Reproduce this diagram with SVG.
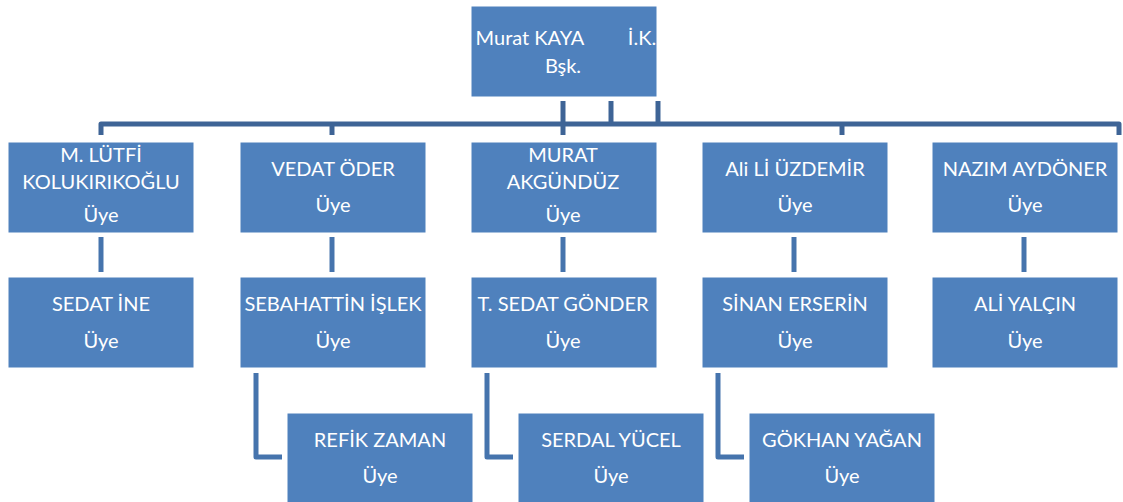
<svg xmlns="http://www.w3.org/2000/svg" width="1123" height="502" viewBox="0 0 1123 502">
<style>
.box{fill:#4f81bd;stroke:#ffffff;stroke-width:1}
.t{font-family:Lato,"Open Sans","Liberation Sans",sans-serif;font-size:20px;fill:#ffffff;text-anchor:middle}
.bus{fill:none;stroke:#3e6496;stroke-width:5;stroke-linejoin:round}
.con{fill:none;stroke:#4674ad;stroke-width:5;stroke-linejoin:round}
</style>
<rect width="1123" height="502" fill="#ffffff"/>
<g id="connectors">
<path class="bus" d="M101,135 V124 H1119 V135"/>
<path class="bus" d="M563,101 V135"/>
<path class="bus" d="M611,101 V124"/>
<path class="bus" d="M658,101 V124"/>
<path class="bus" d="M332,124 V135"/>
<path class="bus" d="M842,124 V135"/>
<path class="con" d="M101,237 V272"/>
<path class="con" d="M332,237 V272"/>
<path class="con" d="M563,237 V272"/>
<path class="con" d="M794,237 V272"/>
<path class="con" d="M1024,237 V272"/>
<path class="con" d="M256,373 V457 H282"/>
<path class="con" d="M487,373 V457 H513"/>
<path class="con" d="M718,373 V457 H744"/>
</g>
<g id="n0"><rect class="box" x="471" y="6" width="186" height="91"/>
<text class="t" x="530" y="45">Murat KAYA</text><text class="t" x="642" y="45">İ.K.</text><text class="t" x="563" y="73">Bşk.</text></g>
<g id="n1"><rect class="box" x="8" y="142" width="186" height="91"/>
<text class="t" x="101" y="162">M. LÜTFİ</text><text class="t" x="101" y="189">KOLUKIRIKOĞLU</text><text class="t" x="101" y="222">Üye</text></g>
<g id="n2"><rect class="box" x="240" y="142" width="186" height="91"/>
<text class="t" x="333" y="176">VEDAT ÖDER</text><text class="t" x="333" y="212">Üye</text></g>
<g id="n3"><rect class="box" x="471" y="142" width="186" height="91"/>
<text class="t" x="563" y="162">MURAT</text><text class="t" x="563" y="189">AKGÜNDÜZ</text><text class="t" x="563" y="222">Üye</text></g>
<g id="n4"><rect class="box" x="702" y="142" width="186" height="91"/>
<text class="t" x="795" y="176">Ali Lİ ÜZDEMİR</text><text class="t" x="795" y="212">Üye</text></g>
<g id="n5"><rect class="box" x="932" y="142" width="186" height="91"/>
<text class="t" x="1025" y="176">NAZIM AYDÖNER</text><text class="t" x="1025" y="212">Üye</text></g>
<g id="n6"><rect class="box" x="8" y="277" width="186" height="91"/>
<text class="t" x="101" y="311">SEDAT İNE</text><text class="t" x="101" y="348">Üye</text></g>
<g id="n7"><rect class="box" x="240" y="277" width="186" height="91"/>
<text class="t" x="333" y="311">SEBAHATTİN İŞLEK</text><text class="t" x="333" y="348">Üye</text></g>
<g id="n8"><rect class="box" x="471" y="277" width="186" height="91"/>
<text class="t" x="563" y="311">T. SEDAT GÖNDER</text><text class="t" x="563" y="348">Üye</text></g>
<g id="n9"><rect class="box" x="702" y="277" width="186" height="91"/>
<text class="t" x="795" y="311">SİNAN ERSERİN</text><text class="t" x="795" y="348">Üye</text></g>
<g id="n10"><rect class="box" x="932" y="277" width="186" height="91"/>
<text class="t" x="1025" y="311">ALİ YALÇIN</text><text class="t" x="1025" y="348">Üye</text></g>
<g id="n11"><rect class="box" x="287" y="413" width="186" height="91"/>
<text class="t" x="380" y="447">REFİK ZAMAN</text><text class="t" x="380" y="483">Üye</text></g>
<g id="n12"><rect class="box" x="518" y="413" width="186" height="91"/>
<text class="t" x="611" y="447">SERDAL YÜCEL</text><text class="t" x="611" y="483">Üye</text></g>
<g id="n13"><rect class="box" x="749" y="413" width="186" height="91"/>
<text class="t" x="842" y="447">GÖKHAN YAĞAN</text><text class="t" x="842" y="483">Üye</text></g>
</svg>
